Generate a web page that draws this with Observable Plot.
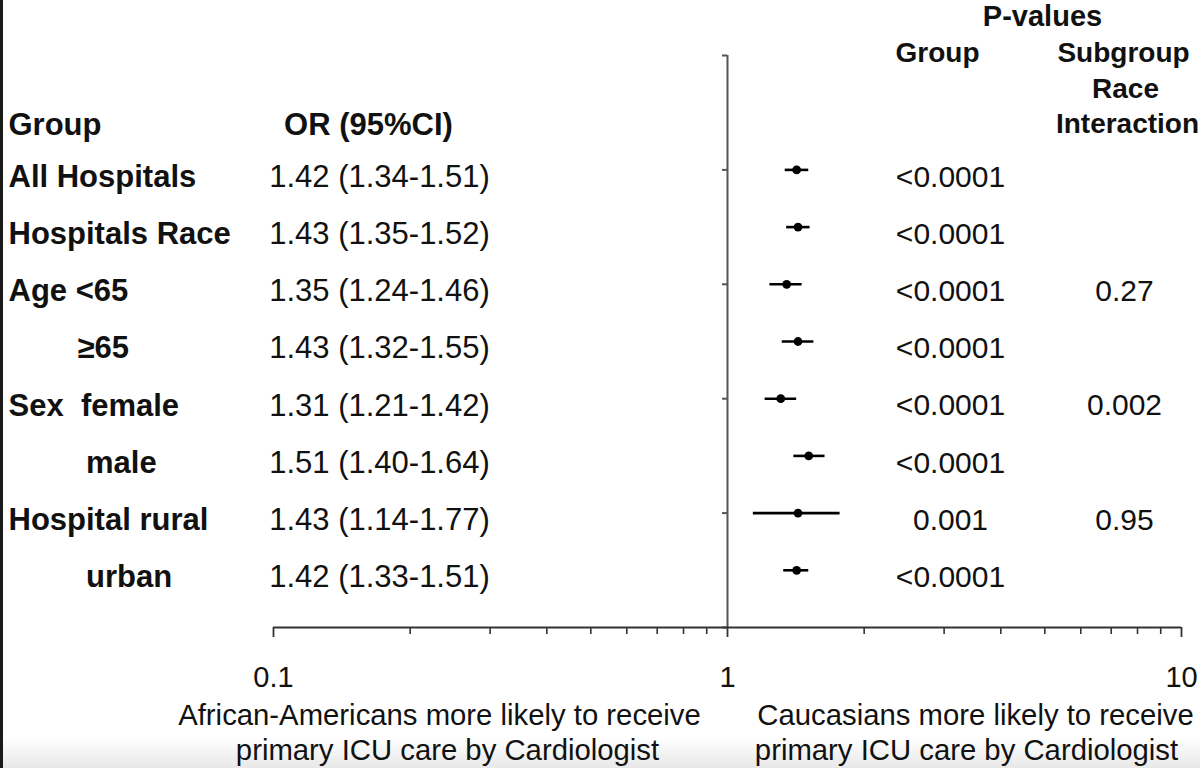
<!DOCTYPE html>
<html><head><meta charset="utf-8">
<script src="https://cdn.jsdelivr.net/npm/d3@7"></script>
<script src="https://cdn.jsdelivr.net/npm/@observablehq/plot@0.6"></script>
<style>
html,body{margin:0;padding:0;background:#fff;}
#chart{position:relative;width:1200px;height:768px;overflow:hidden;background:#fff;}
#chart svg{position:relative;z-index:2;}
#chart svg text{white-space:pre;}
#chart::before{content:"";position:absolute;left:0;top:0;width:3px;height:768px;background:#1a1a1a;z-index:3;}
#chart::after{content:"";position:absolute;left:0;bottom:0;width:1200px;height:30px;background:linear-gradient(rgba(255,255,255,0),#e8e8e8);z-index:1;pointer-events:none;}
</style></head>
<body><div id="chart"></div>
<script>
// ---- data ----
const groups = ["All Hospitals", "Hospitals Race", "Age <65", "        \u226565", "Sex  female", "         male", "Hospital rural", "         urban"];
const orValues = [1.42, 1.43, 1.35, 1.43, 1.31, 1.51, 1.43, 1.42];
const ciLow   = [1.34, 1.35, 1.24, 1.32, 1.21, 1.40, 1.14, 1.33];
const ciHigh  = [1.51, 1.52, 1.46, 1.55, 1.42, 1.64, 1.77, 1.51];
const pGroup  = ["<0.0001", "<0.0001", "<0.0001", "<0.0001", "<0.0001", "<0.0001", "0.001", "<0.0001"];
const pInteraction = ["", "", "0.27", "", "0.002", "", "0.95", ""];
const majorTicks = [0.1, 1, 10];
const majorTickLabels = ["0.1", "1", "10"];
const minorTicks = [0.2, 0.3, 0.4, 0.5, 0.6, 0.7, 0.8, 0.9, 2, 3, 4, 5, 6, 7, 8, 9];
const yTicks = [0, 2, 4, 6, 8, 10];
const headerLeft = ["Group", "OR (95%CI)"];
const headerRight = ["P-values", "Group", "Subgroup", "Race", "Interaction"];
const xLabelLeft = ["African-Americans more likely to receive", "primary ICU care by Cardiologist"];
const xLabelRight = ["Caucasians more likely to receive", "primary ICU care by Cardiologist"];

const rows = groups.map((g, i) => ({
  label: g, or: orValues[i], lo: ciLow[i], hi: ciHigh[i],
  pg: pGroup[i], pi: pInteraction[i], row: groups.length - i
}));

const FS = 31;
const ink = "#111";
const T = (txt, opts) => Plot.text([txt], {text: d => d, fill: ink, fontSize: 28, textAnchor: "middle", lineAnchor: "middle", ...opts});

const plot = Plot.plot({
  width: 1200, height: 768,
  marginLeft: 273, marginRight: 19, marginTop: 55, marginBottom: 141,
  x: {type: "log", domain: [0.1, 10], axis: null},
  y: {domain: [0, 10], axis: null},
  style: {fontFamily: "'Liberation Sans', Arial, sans-serif", background: "transparent", color: ink, overflow: "visible"},
  marks: [
    // reference line at OR = 1 with its y ticks
    Plot.ruleX([1], {y1: 0, y2: 10, stroke: "#555", strokeWidth: 2}),
    Plot.ruleY(yTicks, {x1: 1, x2: 1, insetLeft: -5, stroke: "#555", strokeWidth: 2}),
    // x axis
    Plot.ruleY([0], {stroke: "#333", strokeWidth: 2}),
    Plot.ruleX(minorTicks, {y1: 0, y2: 0, insetBottom: -7, stroke: "#333", strokeWidth: 1.6}),
    Plot.ruleX(majorTicks, {y1: 0, y2: 0, insetBottom: -10, stroke: "#333", strokeWidth: 1.8}),
    Plot.text(majorTicks, {x: d => d, y: 0, dy: 50, text: (d, i) => majorTickLabels[i], fontSize: 29, fill: ink}),
    // CIs and points
    Plot.ruleY(rows, {y: "row", x1: "lo", x2: "hi", stroke: "#000", strokeWidth: 2.6}),
    Plot.dot(rows, {x: "or", y: "row", r: 4.4, fill: "#000"}),
    // table columns
    Plot.text(rows, {y: "row", text: "label", frameAnchor: "left", dx: -265, dy: 7, textAnchor: "start", lineAnchor: "middle", fontWeight: "bold", fontSize: FS, fill: ink}),
    Plot.text(rows, {y: "row", text: d => `${d.or.toFixed(2)} (${d.lo.toFixed(2)}-${d.hi.toFixed(2)})`, frameAnchor: "left", dx: 106, dy: 7, textAnchor: "middle", lineAnchor: "middle", fontSize: FS, fill: ink}),
    Plot.text(rows, {y: "row", text: "pg", frameAnchor: "left", dx: 677, dy: 7, textAnchor: "middle", lineAnchor: "middle", fontSize: 30, fill: ink}),
    Plot.text(rows, {y: "row", text: "pi", frameAnchor: "left", dx: 851, dy: 7, textAnchor: "middle", lineAnchor: "middle", fontSize: 30, fill: ink}),
    // headers
    T(headerLeft[0], {frameAnchor: "top-left", dx: -265, dy: 70, textAnchor: "start", fontWeight: "bold", fontSize: FS}),
    T(headerLeft[1], {frameAnchor: "top-left", dx: 95, dy: 70, fontWeight: "bold", fontSize: FS}),
    T(headerRight[0], {frameAnchor: "top-left", dx: 769, dy: -39, fontWeight: "bold", fontSize: 29}),
    T(headerRight[1], {frameAnchor: "top-left", dx: 664, dy: -2, fontWeight: "bold"}),
    T(headerRight[2], {frameAnchor: "top-left", dx: 850, dy: -2, fontWeight: "bold"}),
    T(headerRight[3], {frameAnchor: "top-left", dx: 852, dy: 34, fontWeight: "bold"}),
    T(headerRight[4], {frameAnchor: "top-left", dx: 854, dy: 69, fontWeight: "bold"}),
    // x axis direction labels
    T(xLabelLeft[0], {frameAnchor: "bottom-left", dx: 166, dy: 88, fontSize: 29.3}),
    T(xLabelLeft[1], {frameAnchor: "bottom-left", dx: 174, dy: 123, fontSize: 29.3}),
    T(xLabelRight[0], {frameAnchor: "bottom-left", dx: 702, dy: 88, fontSize: 29.3}),
    T(xLabelRight[1], {frameAnchor: "bottom-left", dx: 693, dy: 123, fontSize: 29.3})
  ]
});
document.getElementById("chart").appendChild(plot);
</script>
</body></html>
